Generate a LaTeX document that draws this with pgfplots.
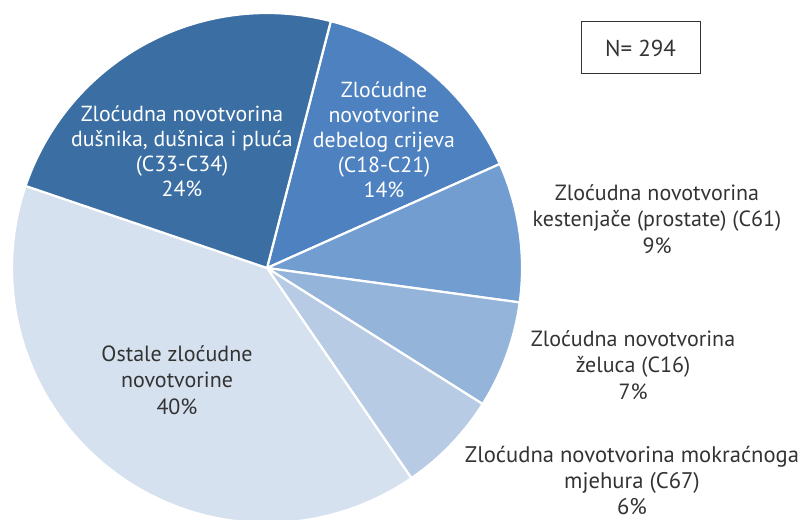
\documentclass[border=0pt]{standalone}
\usepackage{pgfplots}
\pgfplotsset{compat=1.18}
\usepackage{fontspec}
\setmainfont{PT Sans}
\definecolor{c24}{HTML}{3B6FA3}
\definecolor{c14}{HTML}{4E81C0}
\definecolor{c9}{HTML}{729DD1}
\definecolor{c7}{HTML}{95B4D9}
\definecolor{c6}{HTML}{B8CBE4}
\definecolor{c40}{HTML}{D6E1EF}
\definecolor{txt}{HTML}{333333}
\begin{document}
\begin{tikzpicture}
\begin{axis}[
  width=403.5pt, height=259.5pt, scale only axis,
  xmin=0, xmax=807, ymin=0, ymax=519,
  hide axis, clip=true,
]
\def\ang{75.5}
\pgfplotsforeachungrouped \n/\c in {42/c14, 26/c9, 20/c7, 19/c6, 117/c40, 70/c24}{%
  \pgfmathsetmacro\angB{\ang-\n/294*360}%
  \edef\cmd{\noexpand\addplot[fill=\c, draw=white, line width=1.1pt, line join=round, domain=\angB:\ang, samples=120] ({267+255*cos(x)},{251+255*sin(x)}) -- (axis cs:267,251) -- cycle;}%
  \cmd
  \global\let\ang\angB
}
\node[align=center, text=white, font=\fontsize{10.9}{12.5}\selectfont] at (axis cs:182,368) {Zloćudna novotvorina\\dušnika, dušnica i pluća\\(C33-C34)\\24\%};
\node[align=center, text=white, font=\fontsize{10.9}{12.5}\selectfont] at (axis cs:384,379) {Zloćudne\\novotvorine\\debelog crijeva\\(C18-C21)\\14\%};
\node[align=center, text=txt, font=\fontsize{11}{13.2}\selectfont] at (axis cs:657,300) {Zloćudna novotvorina\\kestenjače (prostate) (C61)\\9\%};
\node[align=center, text=txt, font=\fontsize{11}{13.2}\selectfont] at (axis cs:633,154) {Zloćudna novotvorina\\želuca (C16)\\7\%};
\node[align=center, text=txt, font=\fontsize{11.3}{13}\selectfont] at (axis cs:632,39) {Zloćudna novotvorina mokraćnoga\\mjehura (C67)\\6\%};
\node[align=center, text=txt, font=\fontsize{11}{13.2}\selectfont] at (axis cs:177,139) {Ostale zloćudne\\novotvorine\\40\%};
\draw[txt, line width=0.5pt] (axis cs:581,445) rectangle (axis cs:700,497);
\node[text=txt, font=\fontsize{11.5}{12}\selectfont] at (axis cs:640.5,471) {N= 294};
\end{axis}
\pgfresetboundingbox
\path (0,0) rectangle (403.5pt,259.5pt);
\end{tikzpicture}
\end{document}
